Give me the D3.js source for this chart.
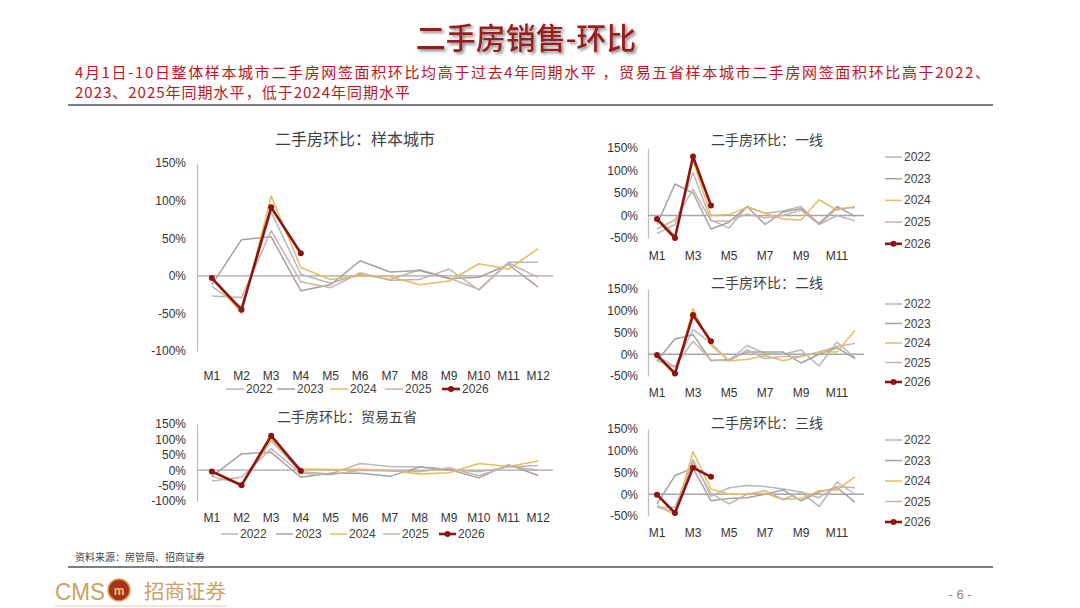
<!DOCTYPE html>
<html>
<head>
<meta charset="utf-8">
<script src="https://cdn.jsdelivr.net/npm/d3@7"></script>
<style>
  body { margin: 0; background: #fff; }
  svg { display: block; }
  text { font-family: "Liberation Sans", Arial, "Noto Sans CJK SC", sans-serif; }
  .cjk { font-family: "Noto Sans CJK SC", sans-serif; }
</style>
</head>
<body>
<div id="page"></div>
<script>
// categories and legend
var months = ["M1", "M2", "M3", "M4", "M5", "M6", "M7", "M8", "M9", "M10", "M11", "M12"];
var years = ["2022", "2023", "2024", "2025", "2026"];
var yearColors = ["#b8b8b8", "#a2a2a2", "#e5bd5c", "#cbb2a8", "#8e1414"];

// tick values (%)
var bigTicks = [-100, -50, 0, 50, 100, 150];
var smallTicks = [-50, 0, 50, 100, 150];

// series values (%), one row per year 2022..2026
var sampleCity = [
    [-14, -42, 85, 2, -10, 2, -5, 8, -3, -18, 18, 18],
    [-12, 48, 52, -20, -12, 20, 5, 7, -4, -2, 15, -15],
    [-3, -50, 106, 11, -5, 0, -1, -12, -7, 16, 9, 36],
    [-27, -29, 60, -8, -16, 4, -6, -5, 9, -19, 17, -2],
    [-3, -45, 91, 30]
];
var tradeFive = [
    [-20, -45, 95, -5, -12, 22, 12, 10, 2, -5, 10, 15],
    [-20, 53, 58, -23, -10, -10, -20, 10, 2, -25, 18, -17],
    [-5, -50, 100, 5, 2, 3, 0, -12, -8, 22, 12, 30],
    [-35, -23, 70, -10, -15, 0, -3, -5, 8, -18, 14, 0],
    [-4, -49, 112, -3]
];
var tier1 = [
    [-40, -20, 95, -10, -28, 20, 5, 10, 20, -20, 0, -12],
    [-20, 70, 50, -30, -15, 20, -20, 8, 15, -18, 20, -2],
    [-5, -45, 122, 0, 2, 18, 5, -8, -10, 35, 12, 20],
    [-30, -10, 58, -12, -12, 3, -5, 0, 12, -20, 15, 18],
    [-8, -50, 131, 22]
];
var tier2 = [
    [-15, -30, 57, 25, -15, 20, 2, 0, 10, -27, 28, -8],
    [-15, 35, 45, -15, -12, 5, 5, 5, -20, 0, 15, -10],
    [-5, -48, 105, 20, -15, -12, -3, -15, -5, 5, 5, 55],
    [-5, -28, 30, -13, -15, 10, -10, -5, -5, 5, 18, 25],
    [-2, -44, 90, 30]
];
var tier3 = [
    [-30, -30, 80, -5, 15, 20, 18, 12, 5, -28, 28, 0],
    [-22, 43, 60, -15, -10, -8, 0, 10, -15, 5, 15, -18],
    [-25, -48, 98, 12, 0, 0, 2, -12, -10, 8, 10, 40],
    [-30, -40, 75, 2, -22, 0, 8, -12, 5, -8, 18, 15],
    [-1, -43, 61, 40]
];

var svg = d3.select("#page")
    .append("svg")
    .attr("width", 1080)
    .attr("height", 608);

// shadow for the page title
var defs = svg.append("defs");
defs.append("filter")
    .attr("id", "shadow")
    .append("feDropShadow")
    .attr("dx", 2).attr("dy", 2)
    .attr("stdDeviation", 1.5)
    .attr("flood-color", "#8a8a8a");

// ---- header ----
svg.append("text")
    .attr("class", "cjk")
    .attr("x", 526).attr("y", 49)
    .attr("text-anchor", "middle")
    .attr("font-size", 30)
    .attr("font-weight", 500)
    .attr("fill", "#9a1a1a")
    .attr("filter", "url(#shadow)")
    .text("二手房销售-环比");

svg.append("text")
    .attr("class", "cjk")
    .attr("x", 75).attr("y", 78)
    .attr("font-size", 15)
    .attr("fill", "#c0141c")
    .attr("textLength", 915)
    .attr("lengthAdjust", "spacing")
    .text("4月1日-10日整体样本城市二手房网签面积环比均高于过去4年同期水平 ，贸易五省样本城市二手房网签面积环比高于2022、");

svg.append("text")
    .attr("class", "cjk")
    .attr("x", 75).attr("y", 98)
    .attr("font-size", 15)
    .attr("fill", "#c0141c")
    .attr("textLength", 335)
    .attr("lengthAdjust", "spacing")
    .text("2023、2025年同期水平，低于2024年同期水平");

svg.append("line")
    .attr("x1", 68).attr("x2", 993)
    .attr("y1", 105).attr("y2", 105)
    .attr("stroke", "#7f7f7f")
    .attr("stroke-width", 2);

// ---- charts ----
function drawChart(cfg) {
    var g = svg.append("g");

    var x = d3.scaleBand()
        .domain(months)
        .range([cfg.left, cfg.right]);

    var y = d3.scaleLinear()
        .domain([cfg.ticks[0], cfg.ticks[cfg.ticks.length - 1]])
        .range([cfg.bottom, cfg.top]);

    // title
    g.append("text")
        .attr("class", "cjk")
        .attr("x", cfg.titleX).attr("y", cfg.titleY)
        .attr("text-anchor", "middle")
        .attr("dominant-baseline", "central")
        .attr("font-size", cfg.titleSize)
        .attr("fill", "#404040")
        .text(cfg.title);

    // left axis
    var leftAxis = d3.axisLeft(y)
        .tickValues(cfg.ticks)
        .tickSize(0)
        .tickPadding(cfg.yPad)
        .tickFormat(d => d + "%");

    var ya = g.append("g")
        .attr("transform", `translate(${cfg.left}, 0)`)
        .call(leftAxis);
    ya.select(".domain").attr("stroke", "#bfbfbf").attr("stroke-width", 1.3);
    ya.selectAll("text").attr("font-size", 12).attr("fill", "#333");

    // bottom labels
    var bottomAxis = d3.axisBottom(x)
        .tickSize(0)
        .tickPadding(cfg.xPad)
        .tickFormat((d, i) => (cfg.oddOnly && i % 2 == 1) ? "" : d);

    var xa = g.append("g")
        .attr("transform", `translate(0, ${cfg.bottom})`)
        .call(bottomAxis);
    xa.select(".domain").remove();
    xa.selectAll("text").attr("font-size", 12).attr("fill", "#333");

    // zero line
    g.append("line")
        .attr("x1", cfg.left).attr("x2", cfg.right)
        .attr("y1", y(0)).attr("y2", y(0))
        .attr("stroke", "#a6a6a6")
        .attr("stroke-width", 1.3);

    var line = d3.line()
        .x((d, i) => x(months[i]) + x.bandwidth() / 2)
        .y(d => y(d));

    cfg.data.forEach(function(vals, k) {
        g.append("path")
            .datum(vals)
            .attr("d", line)
            .attr("fill", "none")
            .attr("stroke", yearColors[k])
            .attr("stroke-width", k == 4 ? 2.6 : 1.5)
            .attr("stroke-linejoin", "round");
    });

    g.selectAll(".dot")
        .data(cfg.data[4])
        .enter()
        .append("circle")
        .attr("cx", (d, i) => x(months[i]) + x.bandwidth() / 2)
        .attr("cy", d => y(d))
        .attr("r", 3)
        .attr("fill", yearColors[4]);

    // legend
    years.forEach(function(yr, k) {
        var lx, ly;
        if (cfg.legendRow) {
            lx = cfg.legendX[k];
            ly = cfg.legendY;
        } else {
            lx = cfg.legendX;
            ly = cfg.legendY + k * cfg.legendStep;
        }
        g.append("line")
            .attr("x1", lx).attr("x2", lx + cfg.legendLen)
            .attr("y1", ly).attr("y2", ly)
            .attr("stroke", yearColors[k])
            .attr("stroke-width", k == 4 ? 2.6 : 1.5);
        if (k == 4) {
            g.append("circle")
                .attr("cx", lx + cfg.legendLen / 2).attr("cy", ly)
                .attr("r", 3)
                .attr("fill", yearColors[k]);
        }
        g.append("text")
            .attr("x", lx + cfg.legendLen + 2).attr("y", ly)
            .attr("dominant-baseline", "central")
            .attr("font-size", 12)
            .attr("fill", "#404040")
            .text(yr);
    });
}

drawChart({
    title: "二手房环比：样本城市", titleX: 355, titleY: 138, titleSize: 16,
    data: sampleCity, ticks: bigTicks,
    left: 197, right: 553, top: 163, bottom: 351,
    yPad: 11, xPad: 20, oddOnly: false,
    legendRow: true, legendX: [226, 277, 330, 385, 442], legendY: 389, legendLen: 18
});

drawChart({
    title: "二手房环比：贸易五省", titleX: 347, titleY: 416, titleSize: 14,
    data: tradeFive, ticks: bigTicks,
    left: 197, right: 553, top: 424, bottom: 501,
    yPad: 11, xPad: 12, oddOnly: false,
    legendRow: true, legendX: [221, 276, 330, 383, 439], legendY: 534, legendLen: 17
});

drawChart({
    title: "二手房环比：一线", titleX: 767, titleY: 139, titleSize: 14,
    data: tier1, ticks: smallTicks,
    left: 648, right: 864, top: 148, bottom: 238,
    yPad: 10, xPad: 13, oddOnly: true,
    legendRow: false, legendX: 885, legendY: 157, legendStep: 21.7, legendLen: 17
});

drawChart({
    title: "二手房环比：二线", titleX: 767, titleY: 282, titleSize: 14,
    data: tier2, ticks: smallTicks,
    left: 648, right: 864, top: 289, bottom: 376,
    yPad: 10, xPad: 12, oddOnly: true,
    legendRow: false, legendX: 885, legendY: 304, legendStep: 19.5, legendLen: 17
});

drawChart({
    title: "二手房环比：三线", titleX: 767, titleY: 422, titleSize: 14,
    data: tier3, ticks: smallTicks,
    left: 648, right: 864, top: 429, bottom: 516,
    yPad: 10, xPad: 12, oddOnly: true,
    legendRow: false, legendX: 885, legendY: 440, legendStep: 20.5, legendLen: 17
});

// ---- footer ----
svg.append("text")
    .attr("class", "cjk")
    .attr("x", 75).attr("y", 561)
    .attr("font-size", 10)
    .attr("fill", "#404040")
    .text("资料来源：房管局、招商证券");

svg.append("line")
    .attr("x1", 68).attr("x2", 993)
    .attr("y1", 567).attr("y2", 567)
    .attr("stroke", "#7f7f7f")
    .attr("stroke-width", 2);

svg.append("text")
    .attr("x", 55).attr("y", 600)
    .attr("font-size", 24)
    .attr("fill", "#c9a266")
    .attr("textLength", 50)
    .attr("lengthAdjust", "spacingAndGlyphs")
    .text("CMS");

svg.append("circle")
    .attr("cx", 119).attr("cy", 590)
    .attr("r", 11)
    .attr("fill", "#a8321e")
    .attr("stroke", "#d9a84e")
    .attr("stroke-width", 1.5);

svg.append("text")
    .attr("x", 119).attr("y", 595)
    .attr("text-anchor", "middle")
    .attr("font-size", 12)
    .attr("font-weight", "bold")
    .attr("fill", "#f0c060")
    .text("m");

svg.append("text")
    .attr("class", "cjk")
    .attr("x", 144).attr("y", 599)
    .attr("font-size", 20)
    .attr("fill", "#c9a266")
    .attr("textLength", 82)
    .attr("lengthAdjust", "spacingAndGlyphs")
    .text("招商证券");

svg.append("line")
    .attr("x1", 55).attr("x2", 226)
    .attr("y1", 606).attr("y2", 606)
    .attr("stroke", "#e3cfa8")
    .attr("stroke-width", 1);

svg.append("text")
    .attr("x", 960).attr("y", 599)
    .attr("text-anchor", "middle")
    .attr("font-size", 13)
    .attr("fill", "#a08060")
    .text("- 6 -");
</script>
</body>
</html>
